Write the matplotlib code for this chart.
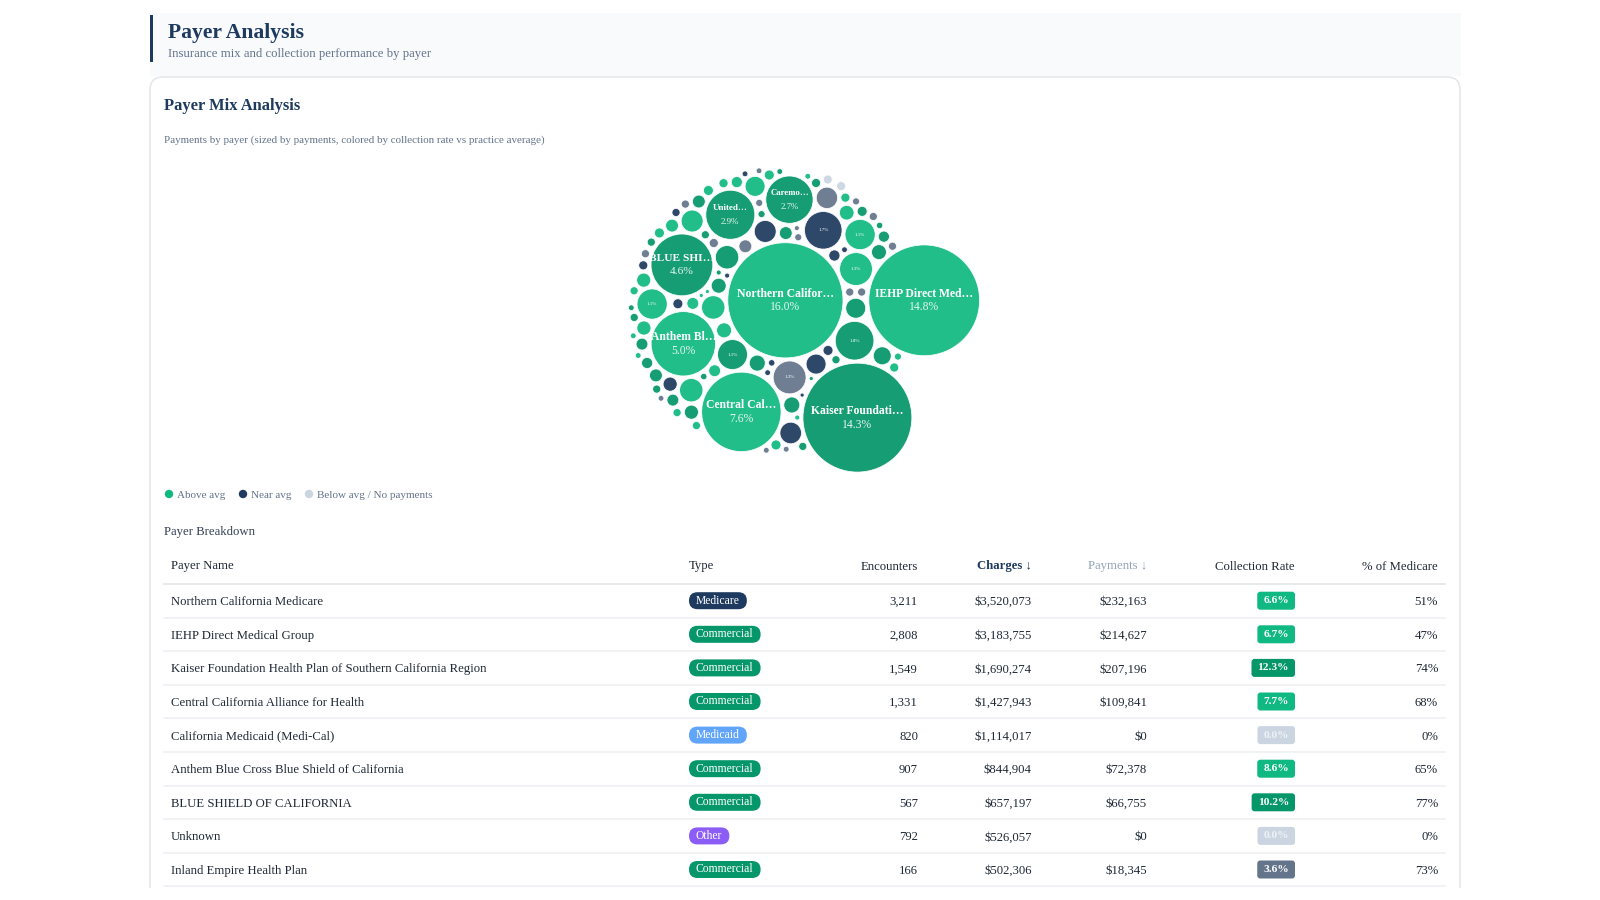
"""Payer Analysis dashboard: packed bubbles of payments and payer breakdown table."""

import matplotlib

matplotlib.use("Agg")
import matplotlib.pyplot as plt
import numpy as np
from matplotlib.patches import Circle, FancyBboxPatch, Rectangle


SERIF = ["Liberation Serif", "DejaVu Serif"]
NAVY = "#1e3a5f"
GRAY = "#64748b"
DARK = "#1f2937"

# ---- table data (sorted by charges) ----
payer_names = [
    "Northern California Medicare",
    "IEHP Direct Medical Group",
    "Kaiser Foundation Health Plan of Southern California Region",
    "Central California Alliance for Health",
    "California Medicaid (Medi-Cal)",
    "Anthem Blue Cross Blue Shield of California",
    "BLUE SHIELD OF CALIFORNIA",
    "Unknown",
    "Inland Empire Health Plan",
]
payer_types = ["Medicare", "Commercial", "Commercial", "Commercial", "Medicaid",
               "Commercial", "Commercial", "Other", "Commercial"]
encounters = [3211, 2808, 1549, 1331, 820, 907, 567, 792, 166]
charges = [3520073, 3183755, 1690274, 1427943, 1114017, 844904, 657197, 526057, 502306]
payments = [232163, 214627, 207196, 109841, 0, 72378, 66755, 0, 18345]
collection_rate = [6.6, 6.7, 12.3, 7.7, 0.0, 8.6, 10.2, 0.0, 3.6]
pct_of_medicare = [51, 47, 74, 68, 0, 65, 77, 0, 73]

# ---- bubble data: share of payments (%), largest first ----
bubble_labels = ["Northern Califor…", "IEHP Direct Med…", "Kaiser Foundati…", "Central Cal…",
                 "Anthem Bl…", "BLUE SHI…", "United…", "Caremo…"]
bubble_pct = [
    16.0, 14.8, 14.3, 7.6, 5.0, 4.6, 2.9, 2.7, 1.8, 1.7,
    1.3, 1.3, 1.1, 1.1, 1.08, 0.66, 0.66, 0.66, 0.58, 0.58,
    0.56, 0.55, 0.48, 0.48, 0.48, 0.39, 0.31, 0.31, 0.27, 0.27,
    0.27, 0.26, 0.24, 0.24, 0.24, 0.24, 0.2, 0.2, 0.2, 0.2,
    0.2, 0.17, 0.17, 0.17, 0.17, 0.15, 0.15, 0.15, 0.15, 0.12,
    0.12, 0.12, 0.12, 0.12, 0.12, 0.12, 0.1, 0.1, 0.1, 0.1,
    0.1, 0.1, 0.08, 0.08, 0.08, 0.08, 0.08, 0.08, 0.08, 0.08,
    0.08, 0.08, 0.08, 0.08, 0.08, 0.08, 0.08, 0.08, 0.06, 0.06,
    0.06, 0.06, 0.06, 0.05, 0.05, 0.05, 0.04, 0.04, 0.04, 0.04,
    0.04, 0.04, 0.04, 0.04, 0.04, 0.04, 0.04, 0.04, 0.03, 0.03,
    0.03, 0.03, 0.02, 0.02, 0.02, 0.02, 0.0, 0.0,
]
bubble_group = [
    "above", "above", "top", "above", "above", "top", "top", "top", "top", "near",
    "below", "above", "above", "above", "top", "above", "top", "above", "near", "above",
    "near", "below", "near", "top", "above", "top", "top", "top", "above", "top",
    "top", "above", "near", "above", "top", "above", "below", "top", "above", "top",
    "top", "above", "above", "top", "top", "near", "above", "top", "top", "near",
    "near", "above", "above", "top", "above", "above", "below", "near", "top", "above",
    "above", "above", "below", "top", "below", "top", "near", "below", "top", "above",
    "below", "top", "above", "below", "top", "above", "below", "top", "below", "top",
    "below", "above", "below", "near", "top", "top", "near", "near", "near", "top",
    "top", "above", "above", "above", "below", "below", "below", "below", "near", "top",
    "below", "above", "above", "above", "top", "near", "none", "none",
]

GROUP_COLORS = {"top": "#059669", "above": "#10b981", "near": NAVY,
                "below": "#64748b", "none": "#cbd5e1"}
TYPE_COLORS = {"Medicare": NAVY, "Commercial": "#059669",
               "Medicaid": "#60a5fa", "Other": "#8b5cf6"}

# packing layout: pull point relative to the first bubble, extra room kept
# between the labelled bubbles so small ones can slip in between
ATTRACT = (-15.0, 10.0)
SPREAD = 0.2


def greedy_pack(radii, pad, n_big):
    """Place circles one by one, each touching two earlier ones, as close as possible
    to a fixed pull point near the first circle."""
    n = len(radii)
    R = np.asarray(radii, dtype=float) + pad
    R_big = R + SPREAD * np.asarray(radii, dtype=float)
    X = np.zeros(n)
    Y = np.zeros(n)
    X[1] = R_big[0] + R_big[1]
    gx, gy = ATTRACT
    for i in range(2, n):
        eff = R_big if i < n_big else R
        px, py, pr = X[:i], Y[:i], eff[:i]
        ia, ib = np.triu_indices(i, 1)
        ar, br = pr[ia] + eff[i], pr[ib] + eff[i]
        dx, dy = px[ib] - px[ia], py[ib] - py[ia]
        d = np.hypot(dx, dy)
        ok = (d < ar + br) & (d > np.abs(ar - br))
        ia, ar, br, dx, dy, d = ia[ok], ar[ok], br[ok], dx[ok], dy[ok], d[ok]
        a = (ar ** 2 - br ** 2 + d ** 2) / (2 * d)
        h = np.sqrt(np.clip(ar ** 2 - a ** 2, 0, None))
        mx, my = px[ia] + a * dx / d, py[ia] + a * dy / d
        cxs = np.concatenate([mx - h * dy / d, mx + h * dy / d])
        cys = np.concatenate([my + h * dx / d, my - h * dx / d])
        dd = np.hypot(cxs[:, None] - px[None, :], cys[:, None] - py[None, :])
        valid = (dd >= pr[None, :] + eff[i] - 1e-6).all(axis=1)
        dist = np.hypot(cxs - gx, cys - gy)
        dist[~valid] = np.inf
        k = int(np.argmin(dist))
        X[i], Y[i] = cxs[k], cys[k]
    return X, Y


fig = plt.figure(figsize=(16, 9), dpi=100)
ax = fig.add_axes([0, 0, 1, 1])
ax.set_xlim(0, 1600)
ax.set_ylim(900, 0)
ax.axis("off")

# header band
ax.add_patch(Rectangle((150, 13), 1311, 63, facecolor="#f8fafc", edgecolor="none", zorder=0))
ax.add_patch(Rectangle((150, 15), 3, 47, facecolor=NAVY, edgecolor="none", zorder=1))
ax.text(168, 38, "Payer Analysis", family=SERIF, fontsize=15.6, fontweight="bold",
        color=NAVY, va="baseline")
ax.text(168, 57.5, "Insurance mix and collection performance by payer", family=SERIF,
        fontsize=9.2, color=GRAY, va="baseline")

# card
ax.add_patch(FancyBboxPatch((150, 77), 1310, 900, boxstyle="round,pad=0,rounding_size=13",
                            facecolor="white", edgecolor="#e5e7eb", linewidth=1.2, zorder=0))
ax.text(164, 110.5, "Payer Mix Analysis", family=SERIF, fontsize=11.9, fontweight="bold",
        color=NAVY, va="baseline")
ax.text(164, 143, "Payments by payer (sized by payments, colored by collection rate vs practice average)",
        family=SERIF, fontsize=7.9, color=GRAY, va="baseline")

# bubbles
SCALE = 14.4      # px per sqrt(% of payments)
PAD = 1.6
radii = np.array([SCALE * np.sqrt(p) if p > 0 else 4.5 for p in bubble_pct])
xs, ys = greedy_pack(radii, PAD, len(bubble_labels))
x0 = ((xs - radii).min() + (xs + radii).max()) / 2
y0 = ((ys - radii).min() + (ys + radii).max()) / 2
cx, cy = 804, 320
for idx, (x, y, r) in enumerate(zip(xs, ys, radii)):
    px, py = x - x0 + cx, y - y0 + cy
    ax.add_patch(Circle((px, py), r, facecolor=GROUP_COLORS[bubble_group[idx]],
                        edgecolor="white", linewidth=0.6, alpha=0.93, zorder=2))
    pct_txt = f"{bubble_pct[idx]:.1f}%"
    if idx < len(bubble_labels):
        fs = min(8.4, 0.265 * r)
        ax.text(px, py - 6.5, bubble_labels[idx], family=SERIF, fontsize=fs, fontweight="bold",
                color="white", ha="center", va="center", zorder=3)
        ax.text(px, py + 7, pct_txt, family=SERIF, fontsize=fs, color="#e8f7f0",
                ha="center", va="center", zorder=3)
    elif bubble_pct[idx] >= 1.0:
        ax.text(px, py, pct_txt, family=SERIF, fontsize=3.6, color="white",
                ha="center", va="center", zorder=3)

# legend
legend_items = [("Above avg", "#10b981", 169), ("Near avg", NAVY, 243),
                ("Below avg / No payments", "#cbd5e1", 309)]
for text, color, lx in legend_items:
    ax.add_patch(Circle((lx, 494), 4.2, facecolor=color, edgecolor="none"))
    ax.text(lx + 8, 497.5, text, family=SERIF, fontsize=8, color=GRAY, va="baseline")

ax.text(164, 535, "Payer Breakdown", family=SERIF, fontsize=9.2, color="#334155", va="baseline")

# table header
HEAD_Y = 569.5
HFS = 9.2
ax.text(171, HEAD_Y, "Payer Name", family=SERIF, fontsize=HFS, color=DARK, va="baseline")
ax.text(689, HEAD_Y, "Type", family=SERIF, fontsize=HFS, color=DARK, va="baseline")
ax.text(918, HEAD_Y, "Encounters", family=SERIF, fontsize=HFS, color=DARK, va="baseline", ha="right")
ax.text(1032, HEAD_Y, "Charges ↓", family=SERIF + ["DejaVu Sans"], fontsize=HFS, fontweight="bold",
        color=NAVY, va="baseline", ha="right")
ax.text(1147, HEAD_Y, "Payments ↓", family=SERIF + ["DejaVu Sans"], fontsize=HFS, color="#94a3b8",
        va="baseline", ha="right")
ax.text(1295, HEAD_Y, "Collection Rate", family=SERIF, fontsize=HFS, color=DARK, va="baseline", ha="right")
ax.text(1438, HEAD_Y, "% of Medicare", family=SERIF, fontsize=HFS, color=DARK, va="baseline", ha="right")
ax.plot([164, 1445], [584, 584], color="#e5e7eb", linewidth=1.3)

renderer = fig.canvas.get_renderer()
ROW0, STEP = 600.7, 33.6
FS = 9.15
for i, name in enumerate(payer_names):
    ry = ROW0 + i * STEP
    ax.text(171, ry + 4.5, name, family=SERIF, fontsize=FS, color=DARK, va="baseline")

    # type pill
    t = ax.text(689 + 7, ry, payer_types[i], family=SERIF, fontsize=8.4, color="white",
                va="center", zorder=4)
    w = t.get_window_extent(renderer).width
    ax.add_patch(FancyBboxPatch((689, ry - 8.5), w + 14, 17, boxstyle="round,pad=0,rounding_size=8.5",
                                facecolor=TYPE_COLORS[payer_types[i]], edgecolor="none", zorder=3))

    ax.text(918, ry + 4.5, f"{encounters[i]:,}", family=SERIF, fontsize=FS, color=DARK,
            va="baseline", ha="right")
    ax.text(1032, ry + 4.5, f"${charges[i]:,}", family=SERIF, fontsize=FS, color=DARK,
            va="baseline", ha="right")
    ax.text(1147, ry + 4.5, f"${payments[i]:,}", family=SERIF, fontsize=FS, color=DARK,
            va="baseline", ha="right")

    rate = collection_rate[i]
    if rate >= 10:
        rc, tc = "#059669", "white"
    elif rate >= 5:
        rc, tc = "#10b981", "white"
    elif rate > 0:
        rc, tc = "#64748b", "white"
    else:
        rc, tc = "#cbd5e1", "#eef2f7"
    t = ax.text(1295 - 6, ry, f"{rate:.1f}%", family=SERIF, fontsize=8.2, fontweight="bold",
                color=tc, va="center", ha="right", zorder=4)
    w = t.get_window_extent(renderer).width
    ax.add_patch(FancyBboxPatch((1295 - w - 12, ry - 9), w + 12, 18,
                                boxstyle="round,pad=0,rounding_size=3",
                                facecolor=rc, edgecolor="none", zorder=3))

    ax.text(1438, ry + 4.5, f"{pct_of_medicare[i]}%", family=SERIF, fontsize=FS, color=DARK,
            va="baseline", ha="right")
    ax.plot([164, 1445], [ry + 16.8, ry + 16.8], color="#eef0f3", linewidth=1.2)

# page bottom is cut off below the last row
ax.add_patch(Rectangle((0, 888), 1600, 20, facecolor="white", edgecolor="none", zorder=5))

fig.savefig("out.png", dpi=100)
